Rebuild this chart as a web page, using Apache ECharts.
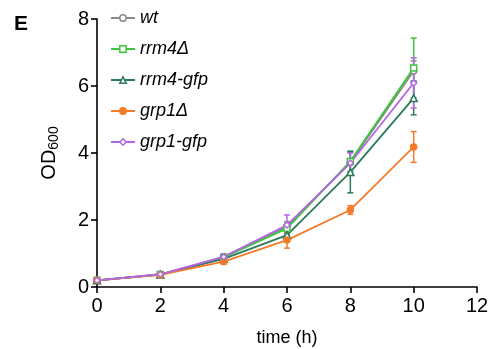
<!DOCTYPE html>
<html>
<head>
<meta charset="utf-8">
<script src="https://cdn.jsdelivr.net/npm/echarts@6/dist/echarts.min.js"></script>
<style>
  html, body { margin: 0; padding: 0; background: #fff; }
  #chart { width: 489px; height: 349px; }
</style>
</head>
<body>
<div id="chart"></div>
<script>
// time points (h)
const times = [0, 2, 4, 6, 8, 10];

// mean OD600 per strain
const wt = [0.2, 0.38, 0.9, 1.8, 3.72, 6.45];
const rrm4Del = [0.2, 0.37, 0.88, 1.75, 3.75, 6.54];
const rrm4Gfp = [0.2, 0.37, 0.84, 1.55, 3.43, 5.64];
const grp1Del = [0.2, 0.36, 0.76, 1.4, 2.3, 4.18];
const grp1Gfp = [0.2, 0.38, 0.9, 1.85, 3.7, 6.09];

// error (SD) per strain
const wtErr = [0.02, 0.03, 0.08, 0.15, 0.3, 0.3];
const rrm4DelErr = [0.02, 0.03, 0.08, 0.15, 0.3, 0.89];
const rrm4GfpErr = [0.02, 0.03, 0.08, 0.15, 0.62, 0.5];
const grp1DelErr = [0.02, 0.03, 0.08, 0.24, 0.13, 0.46];
const grp1GfpErr = [0.02, 0.03, 0.08, 0.3, 0.3, 0.75];

const strains = [
  { name: 'wt', data: wt, err: wtErr, color: '#8a8a8a', symbol: 'circle', fill: '#fff' },
  { name: 'rrm4Δ', data: rrm4Del, err: rrm4DelErr, color: '#3cc43c', symbol: 'rect', fill: '#fff' },
  { name: 'rrm4-gfp', data: rrm4Gfp, err: rrm4GfpErr, color: '#2b7a5c', symbol: 'triangle', fill: '#fff' },
  { name: 'grp1Δ', data: grp1Del, err: grp1DelErr, color: '#f47a2a', symbol: 'circle', fill: '#f47a2a' },
  { name: 'grp1-gfp', data: grp1Gfp, err: grp1GfpErr, color: '#b565e6', symbol: 'diamond', fill: '#fff' }
];

const chart = echarts.init(document.getElementById('chart'));

const series = [];
strains.forEach(s => {
  // error bars
  series.push({
    name: s.name + '-err',
    type: 'custom',
    silent: true,
    data: times.map((t, i) => [t, s.data[i] - s.err[i], s.data[i] + s.err[i]]),
    renderItem: function (params, api) {
      const lo = api.coord([api.value(0), api.value(1)]);
      const hi = api.coord([api.value(0), api.value(2)]);
      const w = 3;
      const style = { stroke: s.color, lineWidth: 1.5 };
      return {
        type: 'group',
        children: [
          { type: 'line', shape: { x1: lo[0], y1: lo[1], x2: hi[0], y2: hi[1] }, style: style },
          { type: 'line', shape: { x1: lo[0] - w, y1: lo[1], x2: lo[0] + w, y2: lo[1] }, style: style },
          { type: 'line', shape: { x1: hi[0] - w, y1: hi[1], x2: hi[0] + w, y2: hi[1] }, style: style }
        ]
      };
    },
    z: 1
  });
  series.push({
    name: s.name,
    type: 'line',
    data: times.map((t, i) => [t, s.data[i]]),
    symbol: s.symbol,
    symbolSize: s.symbol === 'triangle' ? 7 : 6,
    showAllSymbol: true,
    lineStyle: { color: s.color, width: 1.8 },
    itemStyle: { color: s.fill, borderColor: s.color, borderWidth: 1.5 },
    z: 2
  });
});

const option = {
  animation: false,
  backgroundColor: '#fff',
  title: {
    text: 'E',
    left: 9,
    top: 9,
    textStyle: { fontFamily: 'Liberation Sans', fontSize: 21, fontWeight: 'bold', color: '#000' }
  },
  legend: {
    data: strains.map(s => ({ name: s.name, itemStyle: { color: s.fill, borderColor: s.color, borderWidth: 1.5 } })),
    orient: 'vertical',
    left: 105,
    top: 4,
    itemWidth: 24,
    itemHeight: 8,
    itemGap: 13,
    textStyle: { fontFamily: 'Liberation Sans', fontSize: 18, fontStyle: 'italic', color: '#000' }
  },
  grid: { left: 97, right: 12, top: 19, bottom: 62, containLabel: false, outerBoundsMode: 'none' },
  xAxis: {
    type: 'value',
    min: 0,
    max: 12,
    interval: 2,
    name: 'time (h)',
    nameLocation: 'middle',
    nameGap: 42,
    nameTextStyle: { fontFamily: 'Liberation Sans', fontSize: 18, color: '#000' },
    axisLine: { lineStyle: { color: '#000', width: 1.6 } },
    axisTick: { length: 6, lineStyle: { color: '#000', width: 1.6 } },
    axisLabel: { fontFamily: 'Liberation Sans', fontSize: 20, color: '#000', margin: 9 },
    splitLine: { show: false }
  },
  yAxis: {
    type: 'value',
    min: 0,
    max: 8,
    interval: 2,
    name: 'OD{sub|600}',
    nameLocation: 'middle',
    nameGap: 36,
    nameRotate: 90,
    nameTextStyle: {
      fontFamily: 'Liberation Sans', fontSize: 20, color: '#000',
      rich: { sub: { fontFamily: 'Liberation Sans', fontSize: 14, color: '#000', verticalAlign: 'bottom', padding: [9, 0, 0, 0] } }
    },
    axisLine: { show: true, lineStyle: { color: '#000', width: 1.6 } },
    axisTick: { show: true, length: 6, lineStyle: { color: '#000', width: 1.6 } },
    axisLabel: { fontFamily: 'Liberation Sans', fontSize: 20, color: '#000', margin: 8 },
    splitLine: { show: false }
  },
  series: series
};

chart.setOption(option);
</script>
</body>
</html>
